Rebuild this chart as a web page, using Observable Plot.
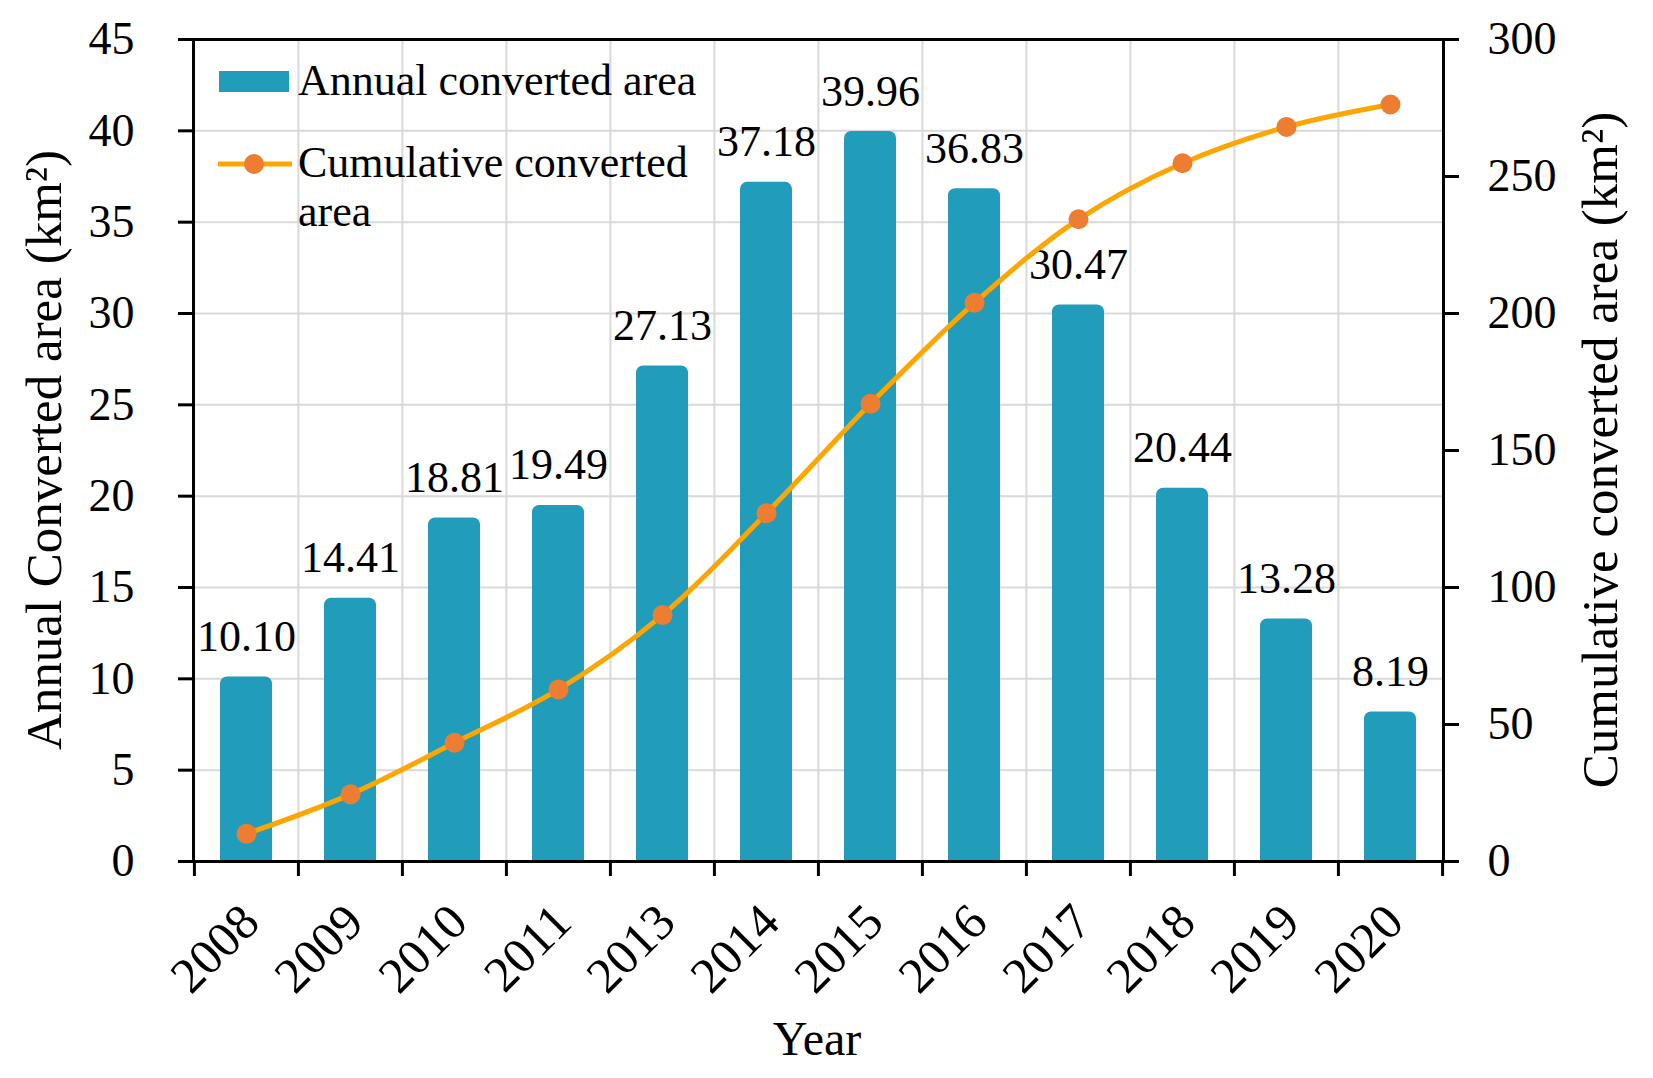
<!DOCTYPE html>
<html>
<head>
<meta charset="utf-8">
<script src="https://cdn.jsdelivr.net/npm/d3@7"></script>
<script src="https://cdn.jsdelivr.net/npm/@observablehq/plot@0.6"></script>
<style>
  html, body { margin: 0; padding: 0; background: #fff; }
  #chart { width: 1653px; height: 1078px; }
</style>
</head>
<body>
<div id="chart"></div>
<script>
const years = ["2008","2009","2010","2011","2013","2014","2015","2016","2017","2018","2019","2020"];
const annual = [10.10,14.41,18.81,19.49,27.13,37.18,39.96,36.83,30.47,20.44,13.28,8.19];
const cumulative = [10.10,24.51,43.32,62.81,89.94,127.12,167.08,203.91,234.38,254.82,268.10,276.29];
const leftTicks = [0,5,10,15,20,25,30,35,40,45];
const rightTicks = [0,50,100,150,200,250,300];

const W = 1653, H = 1078;
const M = {left: 193, right: 210, top: 39, bottom: 217};
const FONT = "'Liberation Serif', 'Times New Roman', serif";
const BAR = "#229CBB", LINE = "#FFA500", DOT = "#ED7D31", GRID = "#D9D9D9";
const leftMax = 45, rightMax = 300;
const toLeft = v => v * leftMax / rightMax;

const data = years.map((year, i) => ({year, annual: annual[i], cum: cumulative[i]}));
const step = (W - M.left - M.right) / years.length;

const plot = Plot.plot({
  width: W, height: H,
  marginLeft: M.left, marginRight: M.right, marginTop: M.top, marginBottom: M.bottom,
  style: {fontFamily: FONT, fontSize: "46px", color: "#000", background: "#fff", overflow: "visible"},
  x: {type: "band", domain: years, paddingInner: 0.5, paddingOuter: 0.25, align: 0.5},
  y: {domain: [0, leftMax]},
  marks: [
    Plot.gridY(leftTicks.slice(1, -1), {stroke: GRID, strokeOpacity: 1, strokeWidth: 2}),
    Plot.ruleX(years.slice(1), {x: d => d, dx: -step / 2, stroke: GRID, strokeWidth: 2}),
    Plot.barY(data, {x: "year", y: "annual", fill: BAR, rx: 7}),
    Plot.barY(data, {x: "year", y: "annual", fill: BAR, insetTop: 12}),
    Plot.text(data, {x: "year", y: "annual", text: d => d.annual.toFixed(2), dy: -26, lineAnchor: "bottom", fontSize: 44}),
    Plot.line(data, {x: "year", y: d => toLeft(d.cum), stroke: LINE, strokeWidth: 5, curve: "catmull-rom"}),
    Plot.dot(data, {x: "year", y: d => toLeft(d.cum), r: 10, fill: DOT, stroke: "none"}),
    Plot.frame({stroke: "#000", strokeWidth: 3}),
    Plot.axisY({ticks: leftTicks, tickSize: 15, tickPadding: 44, strokeWidth: 3, fontSize: 46, label: null}),
    Plot.axisY({anchor: "right", ticks: rightTicks.map(toLeft), tickFormat: v => String(Math.round(v * rightMax / leftMax)),
      tickSize: 15, tickPadding: 29, strokeWidth: 3, fontSize: 46, label: null}),
    Plot.axisX({tickSize: 15, tickFormat: () => "", dx: -step / 2, strokeWidth: 3, label: null}),
    Plot.axisX([years[years.length - 1]], {tickSize: 15, tickFormat: () => "", dx: step / 2, strokeWidth: 3, label: null}),
    Plot.text(years, {x: d => d, frameAnchor: "bottom", dx: 4, dy: 52, rotate: -45, textAnchor: "end", lineAnchor: "middle", fontSize: 50})
  ]
});

document.getElementById("chart").appendChild(plot);

const svg = d3.select(plot);
const g = svg.append("g").attr("font-family", FONT).attr("fill", "#000").attr("text-anchor", "start");

// axis titles
g.append("text").attr("transform", "translate(44,450) rotate(-90)")
  .attr("text-anchor", "middle").attr("dominant-baseline", "central").attr("font-size", 51)
  .text("Annual Converted area (km²)");
g.append("text").attr("transform", "translate(1600,450) rotate(-90)")
  .attr("text-anchor", "middle").attr("dominant-baseline", "central").attr("font-size", 51)
  .text("Cumulative converted area (km²)");
g.append("text").attr("x", 817).attr("y", 1055).attr("text-anchor", "middle").attr("font-size", 48).text("Year");

// legend
const lg = g.append("g").attr("text-anchor", "start");
lg.append("rect").attr("x", 219).attr("y", 71).attr("width", 70).attr("height", 21).attr("fill", BAR);
lg.append("text").attr("x", 298).attr("y", 95).attr("font-size", 44).text("Annual converted area");
lg.append("line").attr("x1", 218).attr("x2", 292).attr("y1", 164).attr("y2", 164).attr("stroke", LINE).attr("stroke-width", 5);
lg.append("circle").attr("cx", 254).attr("cy", 164).attr("r", 10).attr("fill", DOT);
lg.append("text").attr("x", 298).attr("y", 177).attr("font-size", 44).text("Cumulative converted");
lg.append("text").attr("x", 298).attr("y", 226).attr("font-size", 44).text("area");
</script>
</body>
</html>
